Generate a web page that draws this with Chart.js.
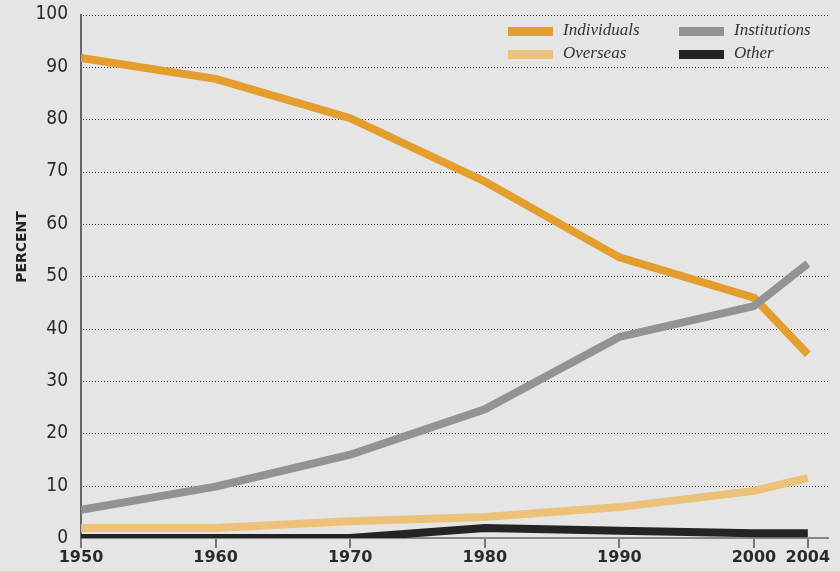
<!DOCTYPE html>
<html>
<head>
<meta charset="utf-8">
<script src="https://cdn.jsdelivr.net/npm/chart.js@4"></script>
<style>
  html, body { margin: 0; padding: 0; background: #e5e5e5; }
  #wrap { width: 840px; height: 571px; }
</style>
</head>
<body>
<div id="wrap"><canvas id="ownersChart" width="840" height="571"></canvas></div>
<script>
const years = [1950, 1960, 1970, 1980, 1990, 2000, 2004];
const individuals = [91.7, 87.7, 80.2, 68.1, 53.6, 45.9, 35.1];
const institutions = [5.4, 9.8, 15.9, 24.6, 38.4, 44.3, 52.4];
const overseas = [1.9, 1.9, 3.2, 4.0, 5.9, 9.0, 11.5];
const other = [0, 0, 0, 1.9, 1.4, 0.9, 0.9];
const yTicks = [0, 10, 20, 30, 40, 50, 60, 70, 80, 90, 100];

const colors = {
  individuals: "#e39e2d",
  institutions: "#939396",
  overseas: "#ecc27a",
  other: "#252323"
};

function pts(vals) {
  return vals.map((v, i) => ({ x: years[i], y: v }));
}

// legend + axis title drawn by hand so they sit where the original has them
const extras = {
  id: "extras",
  afterDraw(chart) {
    const c = chart.ctx;
    c.save();
    const items = [
      ["Individuals", colors.individuals, 508, 27],
      ["Institutions", colors.institutions, 679, 27],
      ["Overseas", colors.overseas, 508, 50],
      ["Other", colors.other, 679, 50]
    ];
    c.font = "italic 17px 'Liberation Serif', serif";
    c.textBaseline = "middle";
    items.forEach(([t, col, x, y]) => {
      c.fillStyle = col;
      c.fillRect(x, y, 45, 9);
      c.fillStyle = "#333";
      c.fillText(t, x + 55, y + 4);
    });
    c.translate(22, 247);
    c.rotate(-Math.PI / 2);
    c.font = "bold 14px 'DejaVu Sans', sans-serif";
    c.textAlign = "center";
    c.fillStyle = "#222";
    c.fillText("PERCENT", 0, 0);
    c.restore();
  }
};

new Chart(document.getElementById("ownersChart"), {
  type: "line",
  data: {
    datasets: [
      { label: "Individuals", data: pts(individuals), borderColor: colors.individuals, order: 2 },
      { label: "Institutions", data: pts(institutions), borderColor: colors.institutions, order: 1 },
      { label: "Overseas", data: pts(overseas), borderColor: colors.overseas, order: 3 },
      { label: "Other", data: pts(other), borderColor: colors.other, order: 0 }
    ]
  },
  options: {
    responsive: false,
    animation: false,
    layout: { padding: { top: 0, right: 12, left: 0, bottom: 0 } },
    elements: {
      line: { borderWidth: 8, tension: 0, borderCapStyle: "butt", borderJoinStyle: "miter" },
      point: { radius: 0 }
    },
    plugins: { legend: { display: false }, tooltip: { enabled: false } },
    scales: {
      x: {
        type: "linear",
        min: 1950,
        max: 2005.5,
        afterBuildTicks: s => { s.ticks = years.map(v => ({ value: v })); },
        afterFit: s => { s.height = 33; },
        grid: { drawOnChartArea: false, drawTicks: true, tickLength: 10, color: "#777", lineWidth: 2 },
        border: { color: "#888", width: 2 },
        ticks: {
          callback: v => String(v),
          color: "#2a2a2a",
          font: { family: "'DejaVu Sans', sans-serif", weight: "bold", size: 16 },
          padding: 0,
          maxRotation: 0,
          autoSkip: false
        }
      },
      y: {
        min: 0,
        max: 100,
        afterBuildTicks: s => { s.ticks = yTicks.map(v => ({ value: v })); },
        afterFit: s => { s.width = 81; },
        grid: { display: false },
        border: { display: true, color: "#666", width: 2 },
        ticks: {
          color: "#2a2a2a",
          font: { family: "'DejaVu Sans', sans-serif", weight: "condensed", size: 19, lineHeight: 1 },
          padding: 5
        }
      }
    }
  },
  plugins: [extras, {
    id: "dotGrid",
    beforeDatasetsDraw(chart) {
      // dotted gridlines reaching to the right edge of the area
      const c = chart.ctx, y = chart.scales.y, a = chart.chartArea;
      c.save();
      c.strokeStyle = "#333";
      c.lineWidth = 1;
      c.setLineDash([1, 2]);
      yTicks.slice(1).forEach(v => {
        const py = Math.round(y.getPixelForValue(v)) + 0.5;
        c.beginPath();
        c.moveTo(a.left + 2, py);
        c.lineTo(a.right, py);
        c.stroke();
      });
      c.restore();
    }
  }]
});
</script>
</body>
</html>
